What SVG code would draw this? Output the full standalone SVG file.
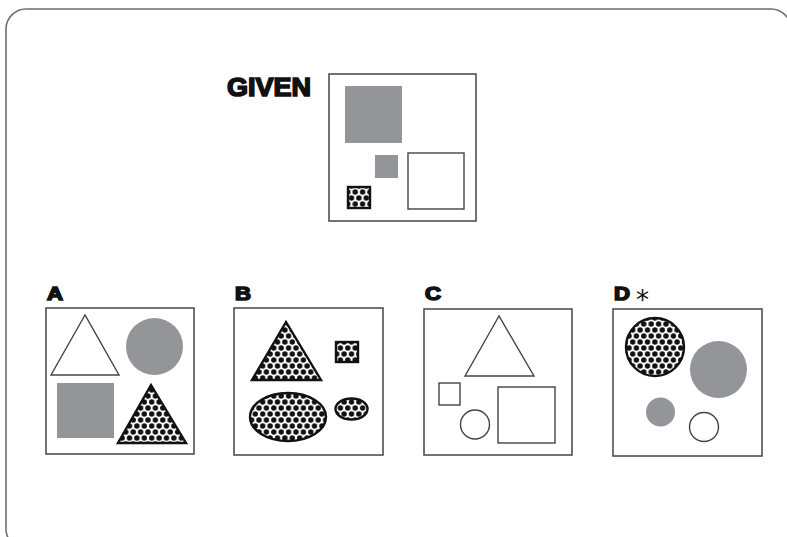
<svg xmlns="http://www.w3.org/2000/svg" width="787" height="537" viewBox="0 0 787 537">
<defs>
<pattern id="dots" width="7.4" height="12" patternUnits="userSpaceOnUse">
<rect width="7.4" height="12" fill="#fff"/>
<circle cx="0" cy="0" r="2.7" fill="#111"/>
<circle cx="7.4" cy="0" r="2.7" fill="#111"/>
<circle cx="0" cy="12" r="2.7" fill="#111"/>
<circle cx="7.4" cy="12" r="2.7" fill="#111"/>
<circle cx="3.7" cy="6" r="2.7" fill="#111"/>
</pattern>
</defs>
<style>
.frame{fill:none;stroke:#6d6e71;stroke-width:1.6}
.box{fill:#fff;stroke:#444;stroke-width:1.5}
.grey{fill:#939598}
.out{fill:#fff;stroke:#444;stroke-width:1.4}
.dot{fill:url(#dots);stroke:#111;stroke-width:2.4}
.lbl{font-family:"Liberation Sans",Arial,sans-serif;font-weight:bold;fill:#111;stroke:#111;stroke-width:1.6}
.ast{font-family:"DejaVu Sans",sans-serif;fill:#111}
</style>
<rect width="787" height="537" fill="#fff"/>
<rect class="frame" x="6" y="9" width="785" height="540" rx="20" ry="20"/>

<g id="given">
<text class="lbl" x="227" y="96" font-size="26" textLength="84" lengthAdjust="spacingAndGlyphs">GIVEN</text>
<rect class="box" x="329" y="74" width="147" height="147"/>
<rect class="grey" x="345" y="86" width="57" height="57"/>
<rect class="grey" x="375" y="155" width="23" height="23"/>
<rect class="out" x="408" y="153" width="56" height="56"/>
<rect class="dot" x="348" y="187" width="22" height="21"/>
</g>

<g id="option-a">
<text class="lbl" x="47" y="300" font-size="19" textLength="16" lengthAdjust="spacingAndGlyphs">A</text>
<rect class="box" x="46" y="308" width="148" height="146"/>
<polygon class="out" points="85,315 51,375 119,375"/>
<circle class="grey" cx="154.5" cy="346.5" r="28.5"/>
<rect class="grey" x="57" y="383" width="57" height="55"/>
<polygon class="dot" points="151,385 118,443 186,443"/>
</g>

<g id="option-b">
<text class="lbl" x="235" y="300" font-size="19" textLength="16" lengthAdjust="spacingAndGlyphs">B</text>
<rect class="box" x="234" y="308" width="149" height="147"/>
<polygon class="dot" points="286,322 252,380 321,380"/>
<rect class="dot" x="336" y="342" width="22" height="20"/>
<ellipse class="dot" cx="288" cy="417" rx="38" ry="24"/>
<ellipse class="dot" cx="351.5" cy="409" rx="16" ry="10.5"/>
</g>

<g id="option-c">
<text class="lbl" x="425" y="300" font-size="19" textLength="16" lengthAdjust="spacingAndGlyphs">C</text>
<rect class="box" x="424" y="309" width="148" height="146"/>
<polygon class="out" points="499,316 465,376 534,376"/>
<rect class="out" x="439" y="383" width="21" height="22"/>
<circle class="out" cx="475" cy="424.5" r="14.5"/>
<rect class="out" x="498" y="387" width="57" height="56"/>
</g>

<g id="option-d">
<text class="lbl" x="614" y="300" font-size="19" textLength="16" lengthAdjust="spacingAndGlyphs">D</text>
<text class="ast" x="636" y="309" font-size="26">*</text>
<rect class="box" x="613" y="309" width="149" height="147"/>
<circle class="dot" cx="655" cy="347" r="29"/>
<circle class="grey" cx="718.5" cy="369.5" r="28.5"/>
<circle class="grey" cx="660.5" cy="412" r="14.5"/>
<circle class="out" cx="704" cy="427" r="14.5"/>
</g>
</svg>
